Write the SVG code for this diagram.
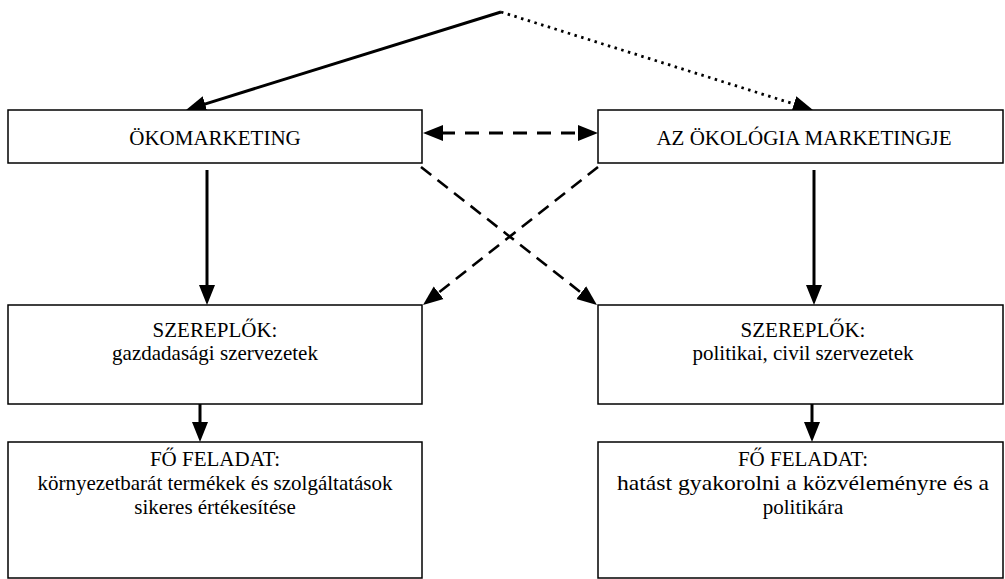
<svg xmlns="http://www.w3.org/2000/svg" width="1005" height="579" viewBox="0 0 1005 579">
  <style>
    .box { fill: #ffffff; stroke: #000000; stroke-width: 1.5; }
    .label { font-family: "Liberation Serif", "Times New Roman", serif; font-size: 21px; fill: #000000; text-anchor: middle; }
    .conn { fill: none; stroke: #000000; stroke-width: 3; }
    .solid { marker-end: url(#head); }
    .dashed { stroke-dasharray: 13 8; stroke-width: 2.6; }
    .dashed-wide { stroke-dasharray: 14 10; stroke-width: 3; }
    .dotted { stroke-dasharray: 2.5 4.5; stroke-width: 2.8; }
  </style>
  <defs>
    <marker id="head" markerUnits="userSpaceOnUse" markerWidth="20" markerHeight="18" refX="2" refY="8" orient="auto-start-reverse" viewBox="0 0 20 16">
      <path d="M0,0 L20,8 L0,16 Z" fill="#000000"/>
    </marker>
  </defs>

  <rect width="1005" height="579" fill="#ffffff"/>

  <!-- connectors -->
  <g id="connectors">
    <!-- from the top apex to both concepts -->
    <line class="conn solid" x1="501" y1="12" x2="203.2" y2="104.6"/>
    <line class="conn dotted" x1="501" y1="12" x2="795.8" y2="104.6" marker-end="url(#head)"/>
    <!-- two-way dashed link between the concepts -->
    <line class="conn dashed-wide" x1="441" y1="133" x2="580" y2="133" marker-start="url(#head)" marker-end="url(#head)"/>
    <!-- concepts to actors -->
    <line class="conn solid" x1="207" y1="170" x2="207" y2="287"/>
    <line class="conn solid" x1="814" y1="170" x2="814" y2="287"/>
    <line class="conn dashed" x1="421" y1="167" x2="582.8" y2="293.9" marker-end="url(#head)"/>
    <line class="conn dashed" x1="598" y1="167" x2="437.1" y2="293.9" marker-end="url(#head)"/>
    <!-- actors to main tasks -->
    <line class="conn solid" x1="200" y1="404" x2="200" y2="424"/>
    <line class="conn solid" x1="812" y1="404" x2="812" y2="424"/>
  </g>

  <g id="okomarketing">
    <rect class="box" x="8" y="110" width="414" height="53"/>
    <text class="label" x="215" y="145">ÖKOMARKETING</text>
  </g>

  <g id="okologia-marketingje">
    <rect class="box" x="598" y="110" width="405" height="53"/>
    <text class="label" x="804" y="145">AZ ÖKOLÓGIA MARKETINGJE</text>
  </g>

  <g id="szereplok-gazdasagi">
    <rect class="box" x="8" y="305" width="414" height="99"/>
    <text class="label" x="215" y="337">SZEREPLŐK:</text>
    <text class="label" x="215" y="360">gazdadasági szervezetek</text>
  </g>

  <g id="szereplok-politikai">
    <rect class="box" x="598" y="305" width="405" height="99"/>
    <text class="label" x="803" y="337">SZEREPLŐK:</text>
    <text class="label" x="803" y="360">politikai, civil szervezetek</text>
  </g>

  <g id="feladat-gazdasagi">
    <rect class="box" x="8" y="442" width="414" height="136"/>
    <text class="label" x="215" y="466">FŐ FELADAT:</text>
    <text class="label" x="215" y="490">környezetbarát termékek és szolgáltatások</text>
    <text class="label" x="215" y="514">sikeres értékesítése</text>
  </g>

  <g id="feladat-politikai">
    <rect class="box" x="598" y="442" width="405" height="136"/>
    <text class="label" x="803" y="466">FŐ FELADAT:</text>
    <text class="label" x="803" y="490" textLength="372" lengthAdjust="spacingAndGlyphs">hatást gyakorolni a közvéleményre és a</text>
    <text class="label" x="803" y="514">politikára</text>
  </g>
</svg>
